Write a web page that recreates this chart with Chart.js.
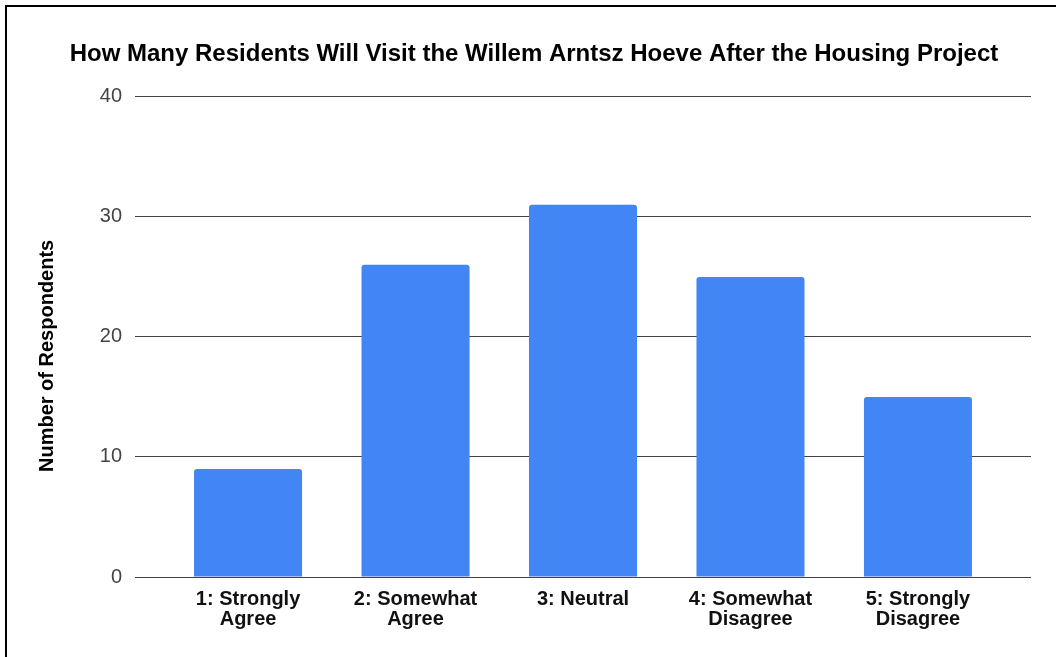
<!DOCTYPE html>
<html>
<head>
<meta charset="utf-8">
<script src="https://cdn.jsdelivr.net/npm/chart.js@4"></script>
<style>
  body { margin: 0; background: #fff; }
  #frame {
    position: absolute; left: 5px; top: 5px;
    width: 1049px; height: 650px;
    border-left: 2px solid #000; border-top: 2px solid #000;
  }
</style>
</head>
<body>
<div id="frame"><canvas id="chart" width="1049" height="650"></canvas></div>
<script>
// categories (split into label lines) and respondent counts
const categories = [
  ["1: Strongly", "Agree"],
  ["2: Somewhat", "Agree"],
  ["3: Neutral"],
  ["4: Somewhat", "Disagree"],
  ["5: Strongly", "Disagree"],
];
const respondents = [9, 26, 31, 25, 15];
const yTicks = [0, 10, 20, 30, 40];
const yTitle = "Number of Respondents";

const fontFamily = "'Liberation Sans', Arial, sans-serif";

// y axis title sits a little below the middle of the plot, like the original
const yTitlePlugin = {
  id: "yTitle",
  afterDraw(chart) {
    const { ctx, chartArea } = chart;
    ctx.save();
    ctx.translate(40, (chartArea.top + chartArea.bottom) / 2 + 19);
    ctx.rotate(-Math.PI / 2);
    ctx.font = "bold 20px " + fontFamily;
    ctx.fillStyle = "#000";
    ctx.textAlign = "center";
    ctx.textBaseline = "middle";
    ctx.fillText(yTitle, 0, 0);
    ctx.restore();
  },
};

const ctx = document.getElementById("chart").getContext("2d");
new Chart(ctx, {
  type: "bar",
  data: {
    datasets: [
      {
        data: respondents.map((v, i) => ({ x: i, y: v })),
        backgroundColor: "#4285F4",
        borderRadius: 3,
        borderSkipped: "start",
        barPercentage: 0.645,
        categoryPercentage: 1,
      },
    ],
  },
  options: {
    responsive: false,
    animation: false,
    layout: { padding: { left: 30, right: 25, top: 0, bottom: 0 } },
    plugins: {
      legend: { display: false },
      tooltip: { enabled: false },
      title: {
        display: true,
        text: "How Many Residents Will Visit the Willem Arntsz Hoeve After the Housing Project",
        color: "#000",
        font: { family: fontFamily, size: 24, weight: "bold" },
        padding: { top: 33, bottom: 28 },
      },
    },
    scales: {
      x: {
        type: "linear",
        offset: false,
        min: -0.675,
        max: 4.675,
        afterBuildTicks: (axis) => {
          axis.ticks = categories.map((c, i) => ({ value: i }));
        },
        afterFit: (axis) => {
          axis.height = 80;
        },
        grid: { display: false, drawTicks: false, offset: false },
        border: { display: false },
        ticks: {
          autoSkip: false,
          maxRotation: 0,
          padding: 12,
          color: "#111",
          font: { family: fontFamily, size: 20, weight: "bold", lineHeight: 1 },
          callback: (v) => categories[v],
        },
      },
      y: {
        min: 0,
        max: 40,
        afterBuildTicks: (axis) => {
          axis.ticks = yTicks.map((v) => ({ value: v }));
        },
        afterFit: (axis) => {
          axis.width = 98;
        },
        grid: { color: "#444", drawTicks: false },
        border: { display: false },
        ticks: {
          padding: 13,
          color: "#444",
          font: { family: fontFamily, size: 20 },
        },
      },
    },
  },
  plugins: [yTitlePlugin],
});
</script>
</body>
</html>
